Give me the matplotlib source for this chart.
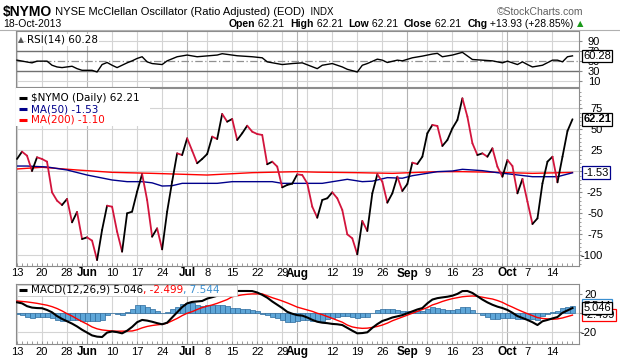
import numpy as np
import matplotlib
matplotlib.use("Agg")
import matplotlib.pyplot as plt
from matplotlib.collections import LineCollection

plt.rcParams['font.family'] = ['Liberation Sans', 'DejaVu Sans']

# ---------------- data ----------------
nymo = [14.9, 23.6, 18.8, 0.6, 16.9, 14.9, 11.7, -24.8, -34.7, -39.9,
        -32.7, -60.5, -48.2, -80.4, -78.4, -82.3, -105.4, -69.6, -40.7, -41.9,
        -71.6, -95.4, -49.8, -47.8, -24.0, -3.0, -33.9, -77.6, -67.7, -92.7,
        -47.8, -12.1, 21.6, 19.6, 39.5, 24.8, 9.8, 14.9, 20.8, 41.5,
        38.7, 68.5, 59.3, 62.5, 37.5, 45.5, 54.5, 47.4, 44.6, 43.5,
        8.6, 11.7, 5.8, -18.9, -16.0, -14.5, -3.4, -4.2, -14.1, -41.9,
        -55.0, -33.9, -31.9, -24.8, -31.9, -45.8, -74.8, -79.6, -98.6, -58.9,
        -70.8, -26.0, -3.4, -12.1, -37.1, -26.0, -6.2, -23.2, -14.9, 10.5,
        8.9, 17.6, 45.5, 55.4, 54.2, 30.4, 37.5, 51.4, 61.3, 87.1,
        65.2, 33.6, 19.6, 21.6, 17.6, 27.6, 5.7, -6.2, 13.7, 6.5,
        -26.0, -8.9, -35.9, -62.5, -55.8, -14.1, 11.7, 17.6, -12.9, 17.6,
        48.28, 62.21]

ma50_idx = [0, 2, 6, 10, 14, 19, 22, 25, 27, 29, 31, 33, 40, 43, 51, 53, 56,
            61, 66, 69, 71, 74, 77, 79, 84, 87, 89, 93, 96, 99, 103, 108, 111]
ma50_vals = [6.5, 6.5, 5.4, 1.8, -4.2, -10.1, -12.1, -12.1, -13.5, -17.3, -16.9,
             -14.1, -14.1, -12.1, -12.1, -14.1, -14.1, -14.1, -9.3, -12.1, -11.5,
             -7.3, -8.0, -5.0, -0.2, 0.6, 2.6, 1.0, -1.4, -3.4, -6.2, -6.2, -1.53]

ma200_idx = [0, 5, 12, 19, 27, 38, 47, 56, 60, 68, 75, 84, 89, 96, 103, 111]
ma200_vals = [3.0, 5.0, 1.8, -1.0, -2.2, -4.2, -1.4, -0.2, -0.8, -1.4, -2.2,
              -0.2, -0.2, -1.0, -2.2, -1.10]

rsi_idx = [0, 2, 3, 4, 6, 7, 8, 9, 11, 12, 13, 15, 16, 17, 18, 19, 20, 22, 23,
           24, 25, 26, 27, 29, 30, 32, 34, 36, 40, 41, 44, 47, 49, 50, 53, 55,
           57, 60, 61, 63, 65, 66, 68, 69, 70, 72, 73, 74, 76, 77, 79, 81, 83,
           84, 85, 87, 89, 91, 93, 95, 97, 98, 99, 100, 101, 102, 103, 105,
           107, 108, 109, 110, 111]
rsi_vals = [51.7, 48.0, 46.3, 49.7, 49.7, 41.5, 38.1, 36.8, 39.5, 34.7, 31.4,
            31.4, 28.0, 42.9, 47.0, 41.5, 36.8, 46.3, 50.3, 55.1, 58.5, 48.3,
            44.9, 42.9, 50.3, 58.5, 61.9, 58.5, 61.9, 64.6, 60.5, 58.5, 56.4,
            48.3, 42.9, 44.9, 46.3, 34.7, 41.5, 44.9, 38.1, 33.4, 28.0, 41.5,
            44.9, 53.7, 51.7, 47.0, 51.7, 50.3, 56.4, 59.8, 63.9, 65.3, 58.5,
            61.9, 67.3, 53.0, 51.7, 50.3, 46.3, 49.7, 46.3, 42.9, 48.3, 42.9,
            38.1, 41.5, 51.7, 51.7, 48.3, 58.5, 60.28]

macd_vals = [11.1, 10, 7, 5.5, 5, 4.8, 3, 0.5, -3.5, -6.5,
             -9, -11.5, -14.5, -18, -21, -24, -25.3, -25.7, -21, -19.8,
             -20.5, -21.8, -19, -15, -10, -7.6, -8.3, -9.5, -11, -12.2,
             -10.5, -5, 0.5, 6, 10, 11.5, 12, 12.5, 15, 16.5,
             18, 20, 21.5, 22.5, 23.1, 23.1, 23.1, 23, 21.5, 19,
             16, 12, 8.5, 5, 1, -1, -2.5, -3, -5, -7.5,
             -9.5, -10.5, -11, -11.8, -12.2, -13, -16, -19, -21.8, -21.5,
             -20.7, -16, -12, -8.7, -7, -5, -3.8, -2.5, -0.5, 1.5,
             3.5, 5, 10, 14, 15.5, 16.3, 17, 18.1, 20, 23,
             23.1, 21, 17.5, 14, 11, 8.5, 6.5, 5, 3, 0,
             -3.5, -5.5, -7.6, -10, -13, -9, -7.6, -6, -4.5, 0,
             2.5, 5.046]
signal_vals = [12.5, 12, 11.5, 10.8, 10, 9, 8, 6.5, 4.5, 2,
               -1, -3.5, -6.5, -9.4, -12, -15, -17, -18.2, -18.8, -19.3,
               -19.5, -19.5, -19.4, -19.3, -18, -16, -14.5, -13.5, -12.8, -12.2,
               -11, -8.5, -6, -3, -0.5, 1.2, 3.5, 5.5, 7, 8.3,
               10, 12, 14, 17, 18, 19, 19.6, 20, 20, 20,
               18, 16, 14.3, 12.5, 10.5, 8.3, 6, 4.5, 3, 1.5,
               -0.5, -2, -4, -5.9, -8, -10, -13, -15, -16, -16.5,
               -16.3, -15.5, -14.5, -13, -11, -8.5, -6.5, -4.5, -2.5, -0.5,
               1.5, 3.5, 5.5, 8.3, 10, 12, 13.6, 15, 16, 17,
               17.5, 17.8, 17.5, 16.5, 15.5, 14.6, 13, 11, 8.3, 6,
               3.5, 1.2, -1, -3, -5.1, -6, -6.5, -6.9, -6.5, -5.5,
               -4, -2.499]
hist_vals = [-1.4, -2, -4.5, -5.3, -5, -4.2, -5, -6, -8, -8.5,
             -8, -8, -8, -8.6, -9, -9, -8.3, -7.5, -2.2, -0.5,
             -1, -2.3, 0.4, 4.3, 8, 8.4, 6.2, 4, 1.8, 0,
             0.5, 3.5, 6.5, 9, 10.5, 10.3, 8.5, 7, 8, 8.2,
             8, 8, 7.5, 5.5, 5.1, 4.1, 3.5, 3, 1.5, -1,
             -2, -4, -5.8, -7.5, -9.5, -9.3, -8.5, -7.5, -8, -9,
             -9, -8.5, -7, -5.9, -4.2, -3, -3, -4, -5.8, -5,
             -4.4, -0.5, 2.5, 4.3, 4, 3.5, 2.7, 2, 2, 2,
             2, 1.5, 4.5, 5.7, 5.5, 4.3, 3.4, 3.1, 4, 6,
             5.6, 3.2, 0, -2.5, -4.5, -6.1, -6.5, -6, -5.3, -6,
             -7, -6.7, -6.6, -7, -7.9, -3, -1.1, 0.9, 2, 5.5,
             6.5, 7.544]

tick_idx = [0, 5, 10, 14, 19, 24, 29, 34, 38, 43, 48, 53, 56, 63, 68, 73, 78,
            82, 87, 92, 98, 102, 107]
tick_labels = ['13', '20', '28', 'Jun', '10', '17', '24', 'Jul', '8', '15', '22',
               '29', 'Aug', '12', '19', '26', 'Sep', '9', '16', '23', 'Oct', '7', '14']
extra_grid_idx = [58, 97]
month_idx = [14, 34, 56, 78, 98]

# ---------------- figure ----------------
W, H = 620, 360
fig = plt.figure(figsize=(W / 100, H / 100), dpi=100)
fig.patch.set_facecolor('white')

def rect(top, bottom, left=16, right=579):
    return [left / W, 1 - bottom / H, (right - left) / W, (bottom - top) / H]

ax_rsi = fig.add_axes(rect(31, 87))
ax_main = fig.add_axes(rect(88, 266))
ax_macd = fig.add_axes(rect(284, 344))

RED = '#d2143c'
NAVY = '#00008b'
GRID = '#d4d4d4'
MONTHGRID = '#b4b4b4'
BORDER = '#8c8c8c'
xlim = (-0.2, 112.3)
n = len(nymo)
x = np.arange(n)

def base(ax, ylim, yticks, ylabels, label_right_px):
    ax.set_xlim(*xlim)
    ax.set_ylim(*ylim)
    for sp in ax.spines.values():
        sp.set_color(BORDER)
        sp.set_linewidth(0.8)
    for gi in tick_idx + extra_grid_idx:
        ax.axvline(gi, color=MONTHGRID if gi in month_idx else GRID, lw=0.8, zorder=0)
    ax.yaxis.tick_right()
    ax.set_yticks(yticks)
    ax.set_yticklabels(ylabels)
    pad_pt = (label_right_px - 579) * 72 / 100 - 2
    ax.tick_params(axis='y', which='major', length=2, direction='out', color=BORDER,
                   pad=pad_pt, labelsize=8)
    for t in ax.get_yticklabels():
        t.set_horizontalalignment('right')
    ax.tick_params(axis='x', which='both', length=0)
    ax.set_xticks([])

# ---------------- RSI ----------------
base(ax_rsi, (-2, 110), [10, 30, 50, 70, 90], ['10', '30', '50', '70', '90'], 600)
for yv in [10, 90]:
    ax_rsi.axhline(yv, color=GRID, lw=0.8, zorder=0)
ax_rsi.axhline(70, color='#707070', lw=1.0, zorder=1)
ax_rsi.axhline(30, color='#707070', lw=1.0, zorder=1)
ax_rsi.axhline(50, color='#909090', lw=0.9, ls=(0, (6, 2, 1, 2)), zorder=1)
ax_rsi.plot(rsi_idx, rsi_vals, color='black', lw=1.0, zorder=3)
ax_rsi.text((27 - 16) / 563, 1 - (40 - 31) / 56, 'RSI(14) 60.28', transform=ax_rsi.transAxes,
            fontsize=7.5, family='DejaVu Sans', va='center', ha='left',
            bbox=dict(fc='white', ec='none', pad=0.5), zorder=5)
ax_rsi.text((18 - 16) / 563, 1 - (40 - 31) / 56, '\u25B2', transform=ax_rsi.transAxes,
            fontsize=5.5, family='DejaVu Sans', va='center', ha='left', color='#555555', zorder=6)

# ---------------- main ----------------
base(ax_main, (-112.5, 99.4), [-100, -75, -50, -25, 0, 25, 50, 75],
     ['-100', '-75', '-50', '-25', '', '25', '50', '75'], 603)
ax_main.set_yticks(np.arange(-110, 100, 5), minor=True)
ax_main.tick_params(axis='y', which='minor', length=1.5, direction='out', color=BORDER)
for yv in [-100, -75, -50, -25, 0, 25, 50, 75]:
    ax_main.axhline(yv, color=GRID, lw=0.8, zorder=0)

ax_main.plot(ma200_idx, ma200_vals, color='#ff0000', lw=1.0, zorder=2)
ax_main.plot(ma50_idx, ma50_vals, color=NAVY, lw=1.0, zorder=2)
pts = np.column_stack([x, nymo])
segs = np.stack([pts[:-1], pts[1:]], axis=1)
cols = ['black' if nymo[i + 1] >= nymo[i] else RED for i in range(n - 1)]
ax_main.add_collection(LineCollection(segs, colors=cols, linewidths=1.3, zorder=3,
                                      capstyle='round', joinstyle='round'))

# legend
ax_main.add_patch(plt.Rectangle((0, 1 - (126 - 88) / 178), (150 - 16) / 563, (126 - 88) / 178,
                                transform=ax_main.transAxes, fc='white', ec='none', zorder=4))
leg = [('$NYMO (Daily) 62.21', 'black', 98), ('MA(50) -1.53', NAVY, 109),
       ('MA(200) -1.10', '#ff0000', 120)]
for txt, c, ypx in leg:
    ya = 1 - (ypx - 88) / 178
    ax_main.plot([(19 - 16) / 563, (27 - 16) / 563], [ya, ya], transform=ax_main.transAxes,
                 color=c, lw=2.2, zorder=5, solid_capstyle='butt')
    ax_main.text((31 - 16) / 563, ya, txt, transform=ax_main.transAxes, color=c,
                 fontsize=7.5, family='DejaVu Sans', va='center', ha='left', zorder=5)

# ---------------- MACD ----------------
base(ax_macd, (-33.1, 30.5), [-20, 0, 20], ['-20', '', '20'], 597)
for yv in [-20, 0, 20]:
    ax_macd.axhline(yv, color=GRID, lw=0.8, zorder=0)
ax_macd.bar(x, hist_vals, width=1.0, color='#5ea6d8', edgecolor='#2b6a9c', linewidth=0.5, zorder=2)
ax_macd.plot(x, signal_vals, color='#ff0000', lw=1.0, zorder=3)
ax_macd.plot(x, macd_vals, color='black', lw=1.5, zorder=4)

ya = 1 - (289.5 - 284) / 60
ax_macd.add_patch(plt.Rectangle(((17 - 16) / 563, 1 - (296 - 284) / 60), (237 - 17) / 563,
                                (296 - 285) / 60, transform=ax_macd.transAxes, fc='white',
                                ec='#c8c8c8', lw=0.6, zorder=5))
ax_macd.plot([(19 - 16) / 563, (27 - 16) / 563], [ya, ya], transform=ax_macd.transAxes,
             color='black', lw=2.2, zorder=6, solid_capstyle='butt')
t1 = ax_macd.text((31 - 16) / 563, ya, 'MACD(12,26,9) 5.046', transform=ax_macd.transAxes,
                  fontsize=7.5, family='DejaVu Sans', va='center', ha='left', zorder=6)
t2 = ax_macd.annotate(', -2.499', xy=(1, 0.5), xycoords=t1, va='center', ha='left',
                      fontsize=7.5, family='DejaVu Sans', color='#ff0000', zorder=6)
t3 = ax_macd.annotate(', 7.544', xy=(1, 0.5), xycoords=t2, va='center', ha='left',
                      fontsize=7.5, family='DejaVu Sans', color='#3a8fd0', zorder=6)

# ---------------- x tick labels ----------------
for ax, ypx in [(ax_main, 273.5), (ax_macd, 352)]:
    for ti, tl in zip(tick_idx, tick_labels):
        bold = ti in month_idx
        ax.text(ti, 1 - (ypx - (88 if ax is ax_main else 284)) /
                (178 if ax is ax_main else 60), tl,
                transform=ax.get_xaxis_transform(), ha='center', va='center',
                fontsize=8.5 if bold else 8, fontweight='bold' if bold else 'normal',
                clip_on=False)
    ax.set_xticks(np.arange(0, n), minor=True)
    ax.tick_params(axis='x', which='minor', length=2, direction='in', color=BORDER, bottom=True)

# ---------------- value boxes ----------------
def vbox(ax, yv, txt, ec, bold=False, z=10):
    ax.annotate(txt, xy=(1, yv), xycoords=ax.get_yaxis_transform(), xytext=(3, 0),
                textcoords='offset points', ha='left', va='center', fontsize=8,
                fontweight='bold' if bold else 'normal', annotation_clip=False,
                bbox=dict(boxstyle='square,pad=0.12', fc='white', ec=ec, lw=0.9), zorder=z)

vbox(ax_main, 62.21, '62.21', 'black', bold=True)
vbox(ax_main, -1.53, '-1.53', NAVY)
vbox(ax_rsi, 60.28, '60.28', 'black')
vbox(ax_macd, 7.544, '7.544', '#3a8fd0', z=8)
vbox(ax_macd, -2.499, '-2.499', '#ff0000', z=9)
vbox(ax_macd, 5.046, '5.046', 'black', z=10)

# ---------------- header ----------------
fig.add_artist(plt.Line2D([0, 1], [1 - 29.5 / H, 1 - 29.5 / H], color='#b0b0b0', lw=0.8))
h1 = fig.text(3 / W, 1 - 12 / H, '$NYMO', fontsize=10, fontweight='bold', va='center', ha='left')
a1 = plt.annotate(' NYSE McClellan Oscillator (Ratio Adjusted) (EOD)', xy=(1, 0.5), xycoords=h1,
                  va='center', ha='left', fontsize=8, annotation_clip=False)
plt.annotate('  INDX', xy=(1, 0.5), xycoords=a1, va='center', ha='left', fontsize=7,
             annotation_clip=False)
fig.text(583 / W, 1 - 12 / H, '\u00a9StockCharts.com', fontsize=7.5, color='#606060',
         va='center', ha='right')
fig.text(3 / W, 1 - 24 / H, '18-Oct-2013', fontsize=7.5, va='center', ha='left')

# right-aligned OHLC line, built from the right edge leftwards
parts = [('Open', True), (' 62.21  ', False), ('High', True), (' 62.21  ', False),
         ('Low', True), (' 62.21  ', False), ('Close', True), (' 62.21  ', False),
         ('Chg', True), (' +13.93 (+28.85%) ', False)]
prev = fig.text(583 / W, 1 - 24 / H, '\u25B2', fontsize=6, color='#1a9a1a',
                family='DejaVu Sans', va='center', ha='right')
for txt, b in reversed(parts):
    prev = plt.annotate(txt, xy=(0, 0.5), xycoords=prev, va='center', ha='right',
                        fontsize=7.5, fontweight='bold' if b else 'normal',
                        annotation_clip=False)

fig.savefig('out.png', dpi=100, facecolor='white')
